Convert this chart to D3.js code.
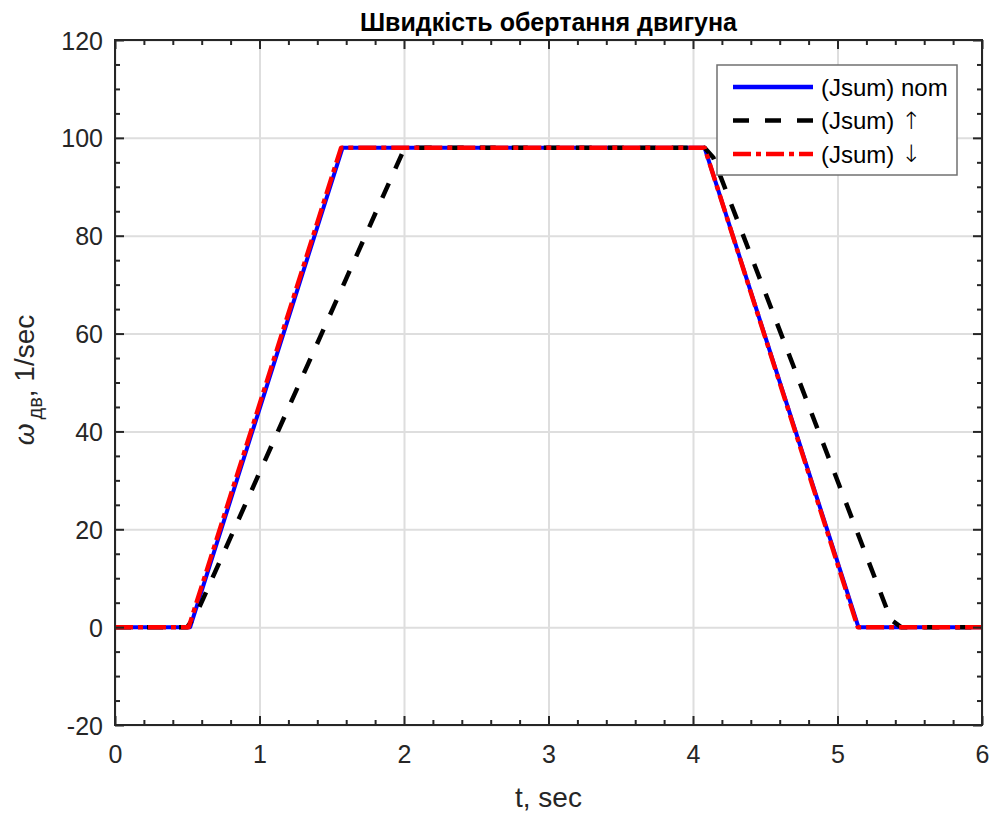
<html>

<head>
    <script src="https://d3js.org/d3.v7.min.js"></script>
    <style>
        body { margin: 0; background: #fff; }
        svg { font-family: "Liberation Sans", Arial, sans-serif; }
        .gridlines line { stroke: #dedede; stroke-width: 2; }
        .gridlines .domain { stroke: none; }
        .axis .domain { stroke: none; }
        .axis line { stroke: #262626; stroke-width: 2; }
        .axis text { fill: #262626; font-size: 25px; font-family: "Liberation Sans", Arial, sans-serif; }
    </style>
</head>

<body>
    <svg height="814" width="993"></svg>

    <script>
        // time / speed samples
        const tNom = [0, 0.52, 1.575, 1.60, 4.08, 5.145, 6];
        const wNom = [0, 0, 98, 98, 98, 0, 0];

        const tUp = [0, 0.50, 0.56, 1.99, 2.06, 4.08, 4.14, 5.37, 5.44, 6];
        const wUp = [0, 0, 2.5, 97, 98, 98, 96, 1.5, 0, 0];

        const tDown = [0, 0.51, 1.565, 1.59, 4.08, 5.14, 6];
        const wDown = [0, 0, 98, 98, 98, 0, 0];

        const xTicks = [0, 1, 2, 3, 4, 5, 6];
        const yTicks = [-20, 0, 20, 40, 60, 80, 100, 120];
        const legendNames = ["(Jsum) nom", "(Jsum) ", "(Jsum) "];
        const legendArrows = ["", "\u2191", "\u2193"];

        const svg = d3.select("svg");
        const margins = { top: 40, right: 11, bottom: 89, left: 115 };
        const chartWidth = 993 - margins.left - margins.right;
        const chartHeight = 814 - margins.top - margins.bottom;

        const xScale = d3.scaleLinear().domain([0, 6]).range([0, chartWidth]);
        const yScale = d3.scaleLinear().domain([-20, 120]).range([chartHeight, 0]);

        const xMinor = d3.range(0, 6.001, 0.2).map(v => +v.toFixed(1)).filter(v => !xTicks.includes(v));
        const yMinor = d3.range(-20, 120.001, 5).filter(v => !yTicks.includes(v));

        let chartArea = svg.append("g")
            .attr("transform", `translate(${margins.left},${margins.top})`);

        // grid
        chartArea.append("g").attr("class", "gridlines")
            .call(d3.axisLeft(yScale).tickValues(yTicks).tickFormat("").tickSize(-chartWidth).tickSizeOuter(0));
        chartArea.append("g").attr("class", "gridlines")
            .attr("transform", `translate(0,${chartHeight})`)
            .call(d3.axisBottom(xScale).tickValues(xTicks).tickFormat("").tickSize(-chartHeight).tickSizeOuter(0));

        // lines
        const line = d3.line().x(d => xScale(d[0])).y(d => yScale(d[1]));
        const series = [
            { t: tNom, w: wNom, color: "#0000ff", dash: null, width: 4 },
            { t: tUp, w: wUp, color: "#000000", dash: "16,16", width: 4.5 },
            { t: tDown, w: wDown, color: "#ff0000", dash: "18,5,5,5", width: 4.5 }
        ];
        series.forEach(s => {
            chartArea.append("path")
                .datum(d3.zip(s.t, s.w))
                .attr("d", line)
                .attr("fill", "none")
                .attr("stroke", s.color)
                .attr("stroke-width", s.width)
                .attr("stroke-linejoin", "round")
                .attr("stroke-dasharray", s.dash);
        });

        // axes with inner ticks on all sides
        const axes = [
            { make: () => d3.axisBottom(xScale), tr: `translate(0,${chartHeight})`, labels: true, major: xTicks, minor: xMinor, side: "x" },
            { make: () => d3.axisTop(xScale), tr: `translate(0,0)`, labels: false, major: xTicks, minor: xMinor, side: "x" },
            { make: () => d3.axisLeft(yScale), tr: `translate(0,0)`, labels: true, major: yTicks, minor: yMinor, side: "y" },
            { make: () => d3.axisRight(yScale), tr: `translate(${chartWidth},0)`, labels: false, major: yTicks, minor: yMinor, side: "y" }
        ];
        axes.forEach(a => {
            chartArea.append("g").attr("class", "axis").attr("transform", a.tr)
                .call(a.make().tickValues(a.minor).tickFormat("").tickSize(-5).tickSizeOuter(0));
            let g = chartArea.append("g").attr("class", "axis").attr("transform", a.tr)
                .call(a.make().tickValues(a.major).tickSize(-9).tickSizeOuter(0).tickPadding(12)
                    .tickFormat(a.labels ? (d => String(d)) : ""));
            if (a.labels && a.side === "x") {
                g.selectAll("text").attr("dy", null).attr("y", 20).attr("dominant-baseline", "hanging");
            }
            if (a.labels && a.side === "y") {
                g.selectAll("text").attr("dy", null).attr("x", -12).attr("dominant-baseline", "central");
            }
        });

        chartArea.append("rect")
            .attr("width", chartWidth).attr("height", chartHeight)
            .attr("fill", "none").attr("stroke", "#262626").attr("stroke-width", 2);

        // legend
        const legend = chartArea.append("g")
            .attr("transform", `translate(${717 - margins.left},${65 - margins.top})`);
        legend.append("rect")
            .attr("width", 240).attr("height", 110)
            .attr("fill", "#fff").attr("stroke", "#707070").attr("stroke-width", 1.5);
        series.forEach((s, i) => {
            const y = 22 + i * 33.5;
            legend.append("line")
                .attr("x1", 16).attr("x2", 96).attr("y1", y).attr("y2", y)
                .attr("stroke", s.color).attr("stroke-width", 4.5)
                .attr("stroke-dasharray", s.dash);
            const txt = legend.append("text")
                .attr("x", 104).attr("y", y).attr("dominant-baseline", "central")
                .attr("font-size", 24).attr("fill", "#000")
                .text(legendNames[i]);
            txt.append("tspan").attr("font-family", "DejaVu Sans, sans-serif").attr("font-weight", 200)
                .text(legendArrows[i]);
        });

        // title and labels
        svg.append("text")
            .attr("x", margins.left + chartWidth / 2).attr("y", 31)
            .attr("text-anchor", "middle").attr("font-weight", "bold")
            .attr("font-size", 25).attr("fill", "#000")
            .text("Швидкість обертання двигуна");

        svg.append("text")
            .attr("x", margins.left + chartWidth / 2).attr("y", 807)
            .attr("text-anchor", "middle").attr("font-size", 28).attr("fill", "#262626")
            .text("t, sec");

        const yLabel = svg.append("text")
            .attr("transform", `translate(34,${margins.top + yScale(50.5)}) rotate(-90)`)
            .attr("text-anchor", "middle").attr("font-size", 28).attr("fill", "#262626");
        yLabel.append("tspan").attr("font-style", "italic").text("ω");
        yLabel.append("tspan").attr("font-size", 20).attr("dy", 8).attr("dx", 4).text("дв");
        yLabel.append("tspan").attr("dy", -8).text(", 1/sec");
    </script>
</body>

</html>
